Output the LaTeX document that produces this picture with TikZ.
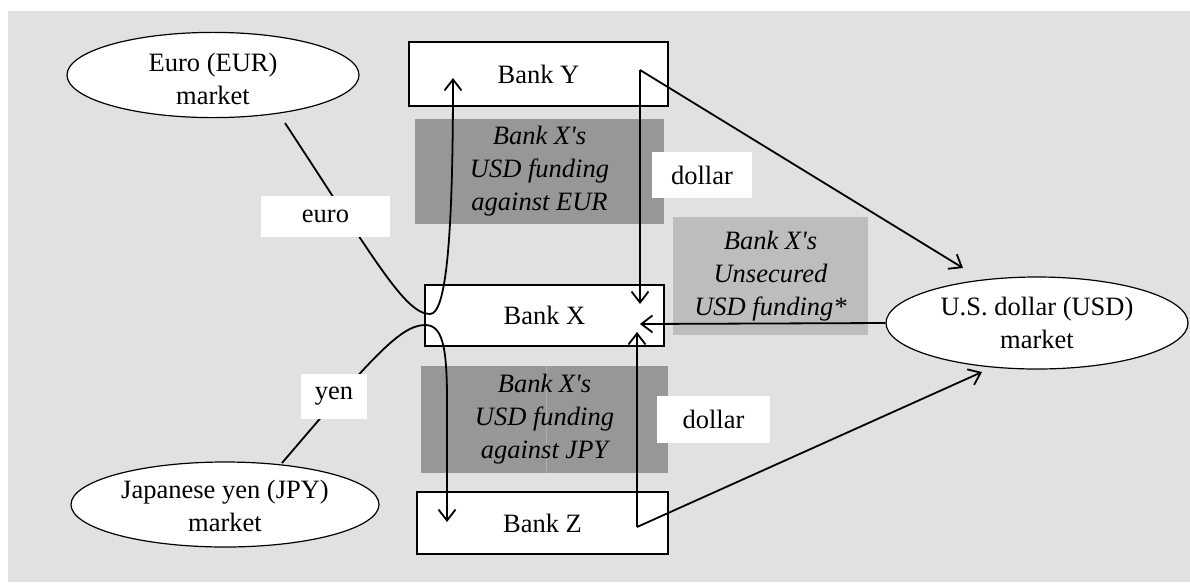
\documentclass[tikz,border=0pt]{standalone}
\usepackage{fontspec}
\setmainfont{Liberation Serif}
\usetikzlibrary{shapes.geometric,arrows.meta}
\definecolor{bgc}{RGB}{225,225,225}
\definecolor{darkbox}{RGB}{151,151,151}
\definecolor{lightbox}{RGB}{189,189,189}
\definecolor{seam}{RGB}{172,172,172}
\begin{document}
\begin{tikzpicture}[x=1pt,y=-1pt,
  every node/.style={font=\fontsize{26.5}{33}\selectfont, align=center, inner sep=0pt},
  bank/.style={draw=black, line width=1.2pt, fill=white, rectangle},
  market/.style={draw=black, line width=1.2pt, fill=white, ellipse},
  shade/.style={rectangle, font=\fontsize{26.5}{33}\selectfont\itshape},
  lbl/.style={fill=white, rectangle},
  conn/.style={line width=1.8pt, -{Straight Barb[length=11pt,width=17pt,line width=1.8pt]}}
]
\useasboundingbox (0,0) rectangle (1190,582);
\fill[bgc] (8,11) rectangle (1190,582);

% shaded boxes
\node[shade, fill=darkbox, minimum width=249pt, minimum height=105pt] (eurf) at (539.5,171.5) {Bank X\textquotesingle s\\USD funding\\against EUR};
\node[shade, fill=darkbox, minimum width=247pt, minimum height=107pt] (jpyf) at (544.5,419.5) {};
\draw[seam, line width=1pt] (jpyf.north) ++(1.5,0) coordinate (sA) (jpyf.south) ++(1.5,0) coordinate (sB);
\draw[seam, line width=1pt] (sA) -- (sB);
\node[shade] (jpyt) at (544.5,419.5) {Bank X\textquotesingle s\\USD funding\\against JPY};
\node[shade, fill=lightbox, minimum width=195pt, minimum height=118pt] (unsec) at (770.5,276) {Bank X\textquotesingle s\\Unsecured\\USD funding*};

% banks and markets
\node[bank, minimum width=259pt, minimum height=64pt] (bankY) at (538.5,74) {Bank Y};
\node[bank, minimum width=239pt, minimum height=61pt] (bankX) at (544.5,315.5) {Bank X};
\node[bank, minimum width=251pt, minimum height=62pt] (bankZ) at (542.5,523) {Bank Z};
\node[market, minimum width=292pt, minimum height=84pt] (eur) at (213,75) {\rule{0pt}{27pt}Euro (EUR)\\market};
\node[market, minimum width=308pt, minimum height=85pt] (jpy) at (225,504.5) {\rule{0pt}{22pt}Japanese yen (JPY)\\market};
\node[market, minimum width=302pt, minimum height=92pt] (usd) at (1037,323) {U.S. dollar (USD)\\market};

% connector end points
\coordinate (eOut) at (285,123);
\coordinate (yIn) at (453,78);
\coordinate (jOut) at (282,463);
\coordinate (zIn) at (447,522);
\coordinate (yOut) at (640,70);
\coordinate (xInTop) at (640,304);
\coordinate (xInRight) at (640,324);
\coordinate (xInBot) at (637,332);
\coordinate (zOut) at (637,527);
\coordinate (uInTop) at (963,268);
\coordinate (uInBot) at (982,372);

% connectors
\draw[conn] (eOut) .. controls (375,260) and (405,314) .. (430,314)
  .. controls (446,314) and (453,240) .. (yIn);
\draw[conn] (jOut) .. controls (370,360) and (400,325) .. (425,325)
  .. controls (442,325) and (447,345) .. (447,400) -- (zIn);
\draw[conn] (yOut) -- (xInTop);
\draw[conn] (yOut) -- (uInTop);
\draw[conn] (usd.west) -- (xInRight);
\draw[conn] (zOut) -- (xInBot);
\draw[conn] (zOut) -- (uInBot);

% labels
\node[lbl, minimum width=129pt, minimum height=41pt] (leuro) at (325.5,216.5) {euro};
\node[lbl, minimum width=66pt, minimum height=45pt] (lyen) at (334,396.5) {yen};
\node[lbl, minimum width=100pt, minimum height=46pt] (ldol1) at (702,175) {dollar};
\node[lbl, minimum width=113pt, minimum height=47pt] (ldol2) at (713.5,419.5) {dollar};
\end{tikzpicture}
\end{document}
